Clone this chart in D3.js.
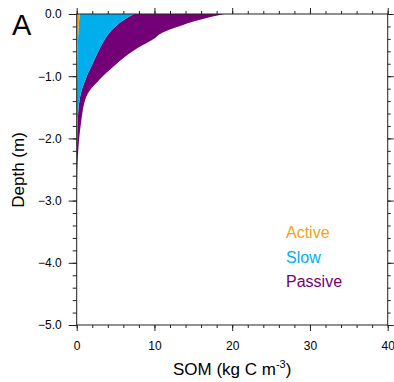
<!DOCTYPE html>
<html>
<head>
<meta charset="utf-8">
<script src="https://cdn.jsdelivr.net/npm/d3@7"></script>
<style>
  html, body { margin: 0; padding: 0; background: #fff; }
  svg text { font-family: "Liberation Sans", Arial, Helvetica, sans-serif; }
</style>
</head>
<body>
<svg id="chart" width="394" height="382"></svg>
<script>
// Soil depth (m) of each profile level
const depths = [0, -0.1, -0.2, -0.3, -0.4, -0.5, -0.6, -0.7, -0.8, -0.9, -1.0, -1.1, -1.2, -1.3,
  -1.4, -1.5, -1.6, -1.8, -2.0, -2.2, -2.5, -3.0, -3.5, -4.0, -4.5, -5.0];

// SOM pools (kg C m-3) at each depth
const activePool = [0.4, 0.32, 0.26, 0.21, 0.17, 0.14, 0.11, 0.09, 0.07, 0.06, 0.05, 0.04, 0.035, 0.03,
  0.025, 0.02, 0.02, 0.015, 0.01, 0.01, 0.005, 0.005, 0.005, 0.005, 0.005, 0.005];
const slowPool = [7.0, 5.68, 4.74, 3.99, 3.48, 3.06, 2.69, 2.31, 1.98, 1.59, 1.25, 0.96, 0.665, 0.47,
  0.325, 0.23, 0.16, 0.085, 0.05, 0.03, 0.015, 0.005, 0.005, 0.005, 0.005, 0.005];
const passivePool = [11.6, 9.6, 8.1, 6.8, 6.25, 5.3, 4.4, 3.7, 3.1, 2.6, 2.05, 1.6, 1.15, 0.85,
  0.7, 0.6, 0.54, 0.4, 0.26, 0.16, 0.06, 0.03, 0.02, 0.015, 0.01, 0.01];

const poolNames = ["Active", "Slow", "Passive"];
const poolColors = ["#f7a11a", "#00aeeb", "#740077"];

const xTicks = [0, 10, 20, 30, 40];
const yTicks = [0, -1, -2, -3, -4, -5];

const svg = d3.select("#chart");
const plotLeft = 76.7, plotRight = 387.7, plotTop = 14, plotBottom = 325;

const x = d3.scaleLinear().domain([0, 40]).range([plotLeft, plotRight]);
const y = d3.scaleLinear().domain([0, -5]).range([plotTop, plotBottom]);

// Stack the three pools from the axis outward
const rows = depths.map((d, i) => ({
  depth: d, Active: activePool[i], Slow: slowPool[i], Passive: passivePool[i]
}));
const stacked = d3.stack().keys(poolNames)(rows);

const area = d3.area()
  .y(d => y(d.data.depth))
  .x0(d => x(d[0]))
  .x1(d => x(d[1]))
  .curve(d3.curveMonotoneY);

svg.append("g")
  .selectAll("path")
  .data(stacked.slice().reverse())
  .join("path")
  .attr("d", area)
  .attr("fill", d => poolColors[poolNames.indexOf(d.key)]);

// Axes on all four sides, ticks pointing outward
const axisColor = "#222";
const minorX = d3.range(0, 40.001, 2);
const minorY = d3.range(0, -5.001, -0.2);

function styleAxis(g) {
  g.select(".domain").remove();
  g.selectAll(".tick line").attr("stroke", axisColor);
}

svg.append("g").attr("transform", `translate(0,${plotBottom})`)
  .call(d3.axisBottom(x).tickValues(minorX).tickSize(3).tickFormat(""))
  .call(styleAxis);
svg.append("g").attr("transform", `translate(0,${plotBottom})`)
  .call(d3.axisBottom(x).tickValues(xTicks).tickSize(6).tickPadding(19).tickFormat(d3.format("d")))
  .call(styleAxis)
  .call(g => g.selectAll("text").attr("font-size", 12).attr("fill", "#000").attr("dy", 0));

svg.append("g").attr("transform", `translate(0,${plotTop})`)
  .call(d3.axisTop(x).tickValues(minorX).tickSize(3).tickFormat(""))
  .call(styleAxis);
svg.append("g").attr("transform", `translate(0,${plotTop})`)
  .call(d3.axisTop(x).tickValues(xTicks).tickSize(6).tickFormat(""))
  .call(styleAxis);

svg.append("g").attr("transform", `translate(${plotLeft},0)`)
  .call(d3.axisLeft(y).tickValues(minorY).tickSize(4).tickFormat(""))
  .call(styleAxis);
svg.append("g").attr("transform", `translate(${plotLeft},0)`)
  .call(d3.axisLeft(y).tickValues(yTicks).tickSize(8).tickPadding(7).tickFormat(d3.format(".1f")))
  .call(styleAxis)
  .call(g => g.selectAll("text").attr("font-size", 12).attr("fill", "#000"));

svg.append("g").attr("transform", `translate(${plotRight},0)`)
  .call(d3.axisRight(y).tickValues(minorY).tickSize(3).tickFormat(""))
  .call(styleAxis);
svg.append("g").attr("transform", `translate(${plotRight},0)`)
  .call(d3.axisRight(y).tickValues(yTicks).tickSize(6).tickFormat(""))
  .call(styleAxis);

// Frame
svg.append("rect")
  .attr("x", plotLeft).attr("y", plotTop)
  .attr("width", plotRight - plotLeft).attr("height", plotBottom - plotTop)
  .attr("fill", "none").attr("stroke", axisColor).attr("stroke-width", 1);

// Axis titles
svg.append("text")
  .attr("x", (plotLeft + plotRight) / 2).attr("y", 375)
  .attr("text-anchor", "middle").attr("font-size", 17)
  .html('SOM (kg C m<tspan dy="-7" font-size="11">-3</tspan><tspan dy="7">)</tspan>');

svg.append("text")
  .attr("transform", "translate(24,170) rotate(-90)")
  .attr("text-anchor", "middle").attr("font-size", 17)
  .text("Depth (m)");

// Panel letter
svg.append("text")
  .attr("x", 12).attr("y", 35)
  .attr("font-size", 29)
  .text("A");

// Legend
svg.append("g")
  .selectAll("text")
  .data(poolNames)
  .join("text")
  .attr("x", 286)
  .attr("y", (d, i) => 238 + i * 24.5)
  .attr("font-size", 16)
  .attr("fill", (d, i) => poolColors[i])
  .text(d => d);
</script>
</body>
</html>
